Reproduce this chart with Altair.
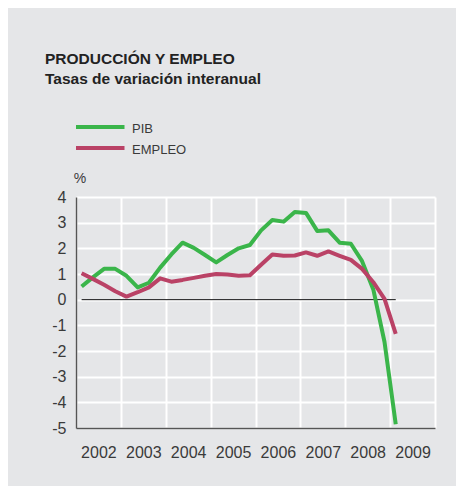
import altair as alt
import pandas as pd

TITLE = "PRODUCCIÓN Y EMPLEO"
SUBTITLE = "Tasas de variación interanual"
UNIT = "%"
SERIES = ["PIB", "EMPLEO"]
COLORS = ["#3AB54A", "#BA4266"]

# quarterly points, 2002-I .. 2009-I
years = [2002] * 4 + [2003] * 4 + [2004] * 4 + [2005] * 4 + [2006] * 4 + [2007] * 4 + [2008] * 4 + [2009]
quarters = [1, 2, 3, 4] * 7 + [1]

pib = [0.51, 0.87, 1.2, 1.2, 0.93, 0.48, 0.66, 1.25, 1.76, 2.22,
       2.02, 1.74, 1.45, 1.74, 2.0, 2.13, 2.7, 3.1, 3.04, 3.42,
       3.38, 2.68, 2.7, 2.22, 2.18, 1.5, 0.4, -1.65, -4.85]
empleo = [1.03, 0.81, 0.58, 0.33, 0.12, 0.29, 0.48, 0.83, 0.7, 0.77,
          0.85, 0.93, 1.0, 0.98, 0.93, 0.95, 1.36, 1.76, 1.71, 1.72,
          1.84, 1.71, 1.88, 1.71, 1.55, 1.2, 0.68, 0.03, -1.33]

year_ticks = list(range(2002, 2011))
y_ticks = list(range(-5, 5))

FONT = "Liberation Sans"
TXT = "#3a3a3a"
BG = "#E5E6E8"

t = [y + (q - 0.5) / 4 for y, q in zip(years, quarters)]
rows = []
for i in range(len(t)):
    rows.append({"t": t[i], "v": pib[i], "s": SERIES[0]})
    rows.append({"t": t[i], "v": empleo[i], "s": SERIES[1]})
df = pd.DataFrame(rows)

xscale = alt.Scale(domain=[year_ticks[0], year_ticks[-1]], nice=False, zero=False)
yscale = alt.Scale(domain=[y_ticks[0], y_ticks[-1]], nice=False, zero=False)

xaxis = alt.Axis(values=year_ticks, grid=True, ticks=False, title=None,
                 labelExpr="datum.value == %d ? '' : toString(datum.value)" % year_ticks[-1],
                 labelOffset=22.4, labelPadding=16, labelFontSize=16, labelFont=FONT,
                 labelColor=TXT, gridColor="white", gridWidth=2, domainColor="#555555",
                 domainWidth=1.5, labelFlush=False, labelOverlap=False)
yaxis = alt.Axis(values=y_ticks, grid=True, ticks=False, title=None,
                 labelExpr="toString(datum.value)", labelPadding=10, labelFontSize=16,
                 labelFont=FONT, labelColor=TXT, gridColor="white", gridWidth=2,
                 domainColor="#555555", domainWidth=1.5, labelFlush=False,
                 labelOverlap=False)

base = alt.Chart(df)

zero_df = pd.DataFrame({"x": [t[0]], "x2": [t[-1]], "y": [0]})
zero = alt.Chart(zero_df).mark_rule(color="#111111", strokeWidth=1).encode(
    x=alt.X("x:Q", scale=xscale, axis=xaxis), x2="x2:Q",
    y=alt.Y("y:Q", scale=yscale, axis=yaxis)
)

lines = []
for name, col in zip(SERIES, COLORS):
    lines.append(
        base.transform_filter(alt.datum.s == name).mark_line(
            color=col, strokeWidth=4, strokeJoin="round"
        ).encode(x=alt.X("t:Q", scale=xscale, axis=xaxis),
                 y=alt.Y("v:Q", scale=yscale, axis=yaxis))
    )

def text_layer(txt, x, y, size, weight="normal", baseline="alphabetic", align="left"):
    return alt.Chart(pd.DataFrame({"txt": [txt]})).mark_text(
        align=align, baseline=baseline, fontSize=size, font=FONT,
        fontWeight=weight, color="#222222" if weight != "normal" else TXT,
    ).encode(x=alt.value(x), y=alt.value(y), text="txt:N")

title = text_layer(TITLE, -31, -133, 15.5, "bold")
subtitle = text_layer(SUBTITLE, -31, -113, 15.5, "bold")
unit = text_layer(UNIT, 4, -18, 14, baseline="middle", align="center")

legend_layers = []
for k, (name, col) in enumerate(zip(SERIES, COLORS)):
    yy = -70 + 21 * k
    legend_layers.append(
        alt.Chart(pd.DataFrame({"s": [name]})).mark_rule(color=col, strokeWidth=4).encode(
            x=alt.value(0), x2=alt.value(48.5), y=alt.value(yy)
        )
    )
    legend_layers.append(text_layer(name, 56, yy + 1.5, 13, baseline="middle"))

chart = alt.layer(
    zero, *lines, title, subtitle, unit, *legend_layers
).properties(
    width=359, height=231,
    autosize=alt.AutoSizeParams(type="none"),
    padding={"left": 68, "top": 189, "right": 21, "bottom": 58},
    background=BG,
).configure_view(stroke=None)

chart.save("out.html", embed_options={"renderer": "svg", "actions": False})
